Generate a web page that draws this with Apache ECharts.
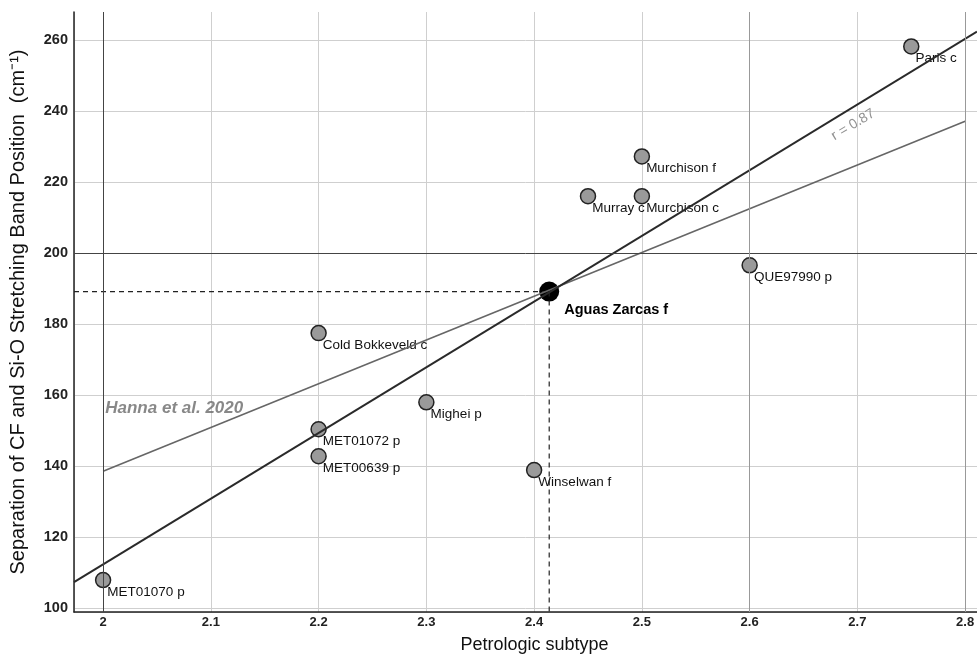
<!DOCTYPE html>
<html>
<head>
<meta charset="utf-8">
<title>Petrologic subtype vs band separation</title>
<script src="https://cdn.jsdelivr.net/npm/echarts@6/dist/echarts.min.js"></script>
<style>
  html, body { margin: 0; padding: 0; background: #fff; }
  #main { width: 977px; height: 654px; }
</style>
</head>
<body>
<div id="main"></div>
<script>
// meteorite samples
var names = ['MET01070 p', 'MET01072 p', 'MET00639 p', 'Cold Bokkeveld c', 'Mighei p',
  'Winselwan f', 'Murray c', 'Murchison c', 'Murchison f', 'QUE97990 p', 'Paris c'];
var subtype = [2.0, 2.2, 2.2, 2.2, 2.3, 2.4, 2.45, 2.5, 2.5, 2.6, 2.75];
var separation = [107.9, 150.4, 142.8, 177.5, 158.0, 138.9, 216.1, 216.1, 227.3, 196.6, 258.3];

// Aguas Zarcas
var aguasName = 'Aguas Zarcas f';
var aguasX = 2.414;
var aguasY = 189.2;

// fit lines (end points)
var fitLine = [[1.973, 107.3], [2.811, 262.5]];
var hannaLine = [[2.0, 138.6], [2.8, 237.2]];

// axis ranges
var xMin = 1.973, xMax = 2.811;
var yMin = 98.9, yMax = 268;

var font = '"Liberation Sans", Arial, sans-serif';

var pts = names.map(function (n, i) { return { name: n, value: [subtype[i], separation[i]] }; });

var chart = echarts.init(document.getElementById('main'));
chart.setOption({
  animation: false,
  textStyle: { fontFamily: font },
  grid: { left: 74, right: 0, top: 12, bottom: 42, containLabel: false, outerBoundsMode: 'none' },
  xAxis: {
    type: 'value', min: xMin, max: xMax, splitNumber: 8, minInterval: 0.1, maxInterval: 0.1,
    name: 'Petrologic subtype', nameLocation: 'middle', nameGap: 24,
    nameTextStyle: { fontSize: 18, color: '#111', fontFamily: font, padding: [0, 0, 0, 18] },
    axisLine: { lineStyle: { color: '#222', width: 1.5 } },
    axisTick: { show: false },
    axisLabel: { color: '#222', fontSize: 13, fontWeight: 'bold', margin: 4,
      showMinLabel: false, showMaxLabel: false, fontFamily: font },
    splitLine: { lineStyle: { color: '#cfcfcf', width: 1 } }
  },
  yAxis: {
    type: 'value', min: yMin, max: yMax, splitNumber: 8, minInterval: 20, maxInterval: 20,
    name: 'Separation of CF and Si-O Stretching Band Position  (cm\u207B\u00B9)',
    nameLocation: 'middle', nameGap: 46,
    nameTextStyle: { fontSize: 20, color: '#111', fontFamily: font },
    axisLine: { show: true, lineStyle: { color: '#222', width: 1.5 } },
    axisTick: { show: false },
    axisLabel: { color: '#222', fontSize: 14.5, fontWeight: 'bold', margin: 6,
      showMinLabel: false, showMaxLabel: false, fontFamily: font },
    splitLine: { showMaxLine: false, lineStyle: { color: '#cfcfcf', width: 1 } }
  },
  series: [
    {
      // darker reference grid lines
      type: 'line', data: [], silent: true,
      markLine: {
        symbol: 'none', silent: true, label: { show: false },
        data: [
          { xAxis: 2, lineStyle: { color: '#444', width: 1, type: 'solid' } },
          { yAxis: 200, lineStyle: { color: '#444', width: 1, type: 'solid' } },
          { xAxis: 2.6, lineStyle: { color: '#999', width: 1, type: 'solid' } },
          { xAxis: 2.8, lineStyle: { color: '#999', width: 1, type: 'solid' } }
        ]
      }
    },
    {
      type: 'line', data: [[xMin, aguasY], [aguasX, aguasY]], showSymbol: false, silent: true,
      lineStyle: { color: '#222', width: 1.2, type: [5, 4] }
    },
    {
      type: 'line', data: [[aguasX, aguasY], [aguasX, yMin]], showSymbol: false, silent: true,
      lineStyle: { color: '#222', width: 1.2, type: [5, 4] }
    },
    {
      type: 'line', data: hannaLine, showSymbol: false, silent: true,
      lineStyle: { color: '#666', width: 1.6 }
    },
    {
      type: 'line', data: fitLine, showSymbol: false, silent: true,
      lineStyle: { color: '#2a2a2a', width: 2 }
    },
    {
      type: 'scatter', data: pts, symbolSize: 15,
      itemStyle: { color: '#9a9a9a', borderColor: '#222', borderWidth: 1.5, opacity: 1 },
      label: {
        show: true, formatter: '{b}', position: [12.5, 20.5], align: 'left', verticalAlign: 'middle',
        color: '#111', fontSize: 13.5, fontFamily: font
      }
    },
    {
      type: 'scatter', data: [{ name: aguasName, value: [aguasX, aguasY] }], symbolSize: 20,
      itemStyle: { color: '#000', opacity: 1 },
      label: {
        show: true, formatter: '{b}', position: [25, 28], align: 'left', verticalAlign: 'middle',
        color: '#000', fontSize: 14.5, fontWeight: 'bold', fontFamily: font
      }
    },
    {
      type: 'scatter', silent: true, symbolSize: 0,
      data: [{ name: 'Hanna et al. 2020', value: [2.002, 156.4] }],
      label: {
        show: true, formatter: '{b}', position: 'right', distance: 0,
        color: '#6a6a6a', fontSize: 17, fontStyle: 'italic', fontWeight: 'bold', fontFamily: font
      }
    },
    {
      type: 'scatter', silent: true, symbolSize: 0,
      data: [{ name: 'r = 0.87', value: [2.696, 236.2] }],
      label: {
        show: true, formatter: '{b}', position: 'inside', rotate: 31,
        color: '#777', fontSize: 14, fontFamily: font
      }
    }
  ]
});
</script>
</body>
</html>
